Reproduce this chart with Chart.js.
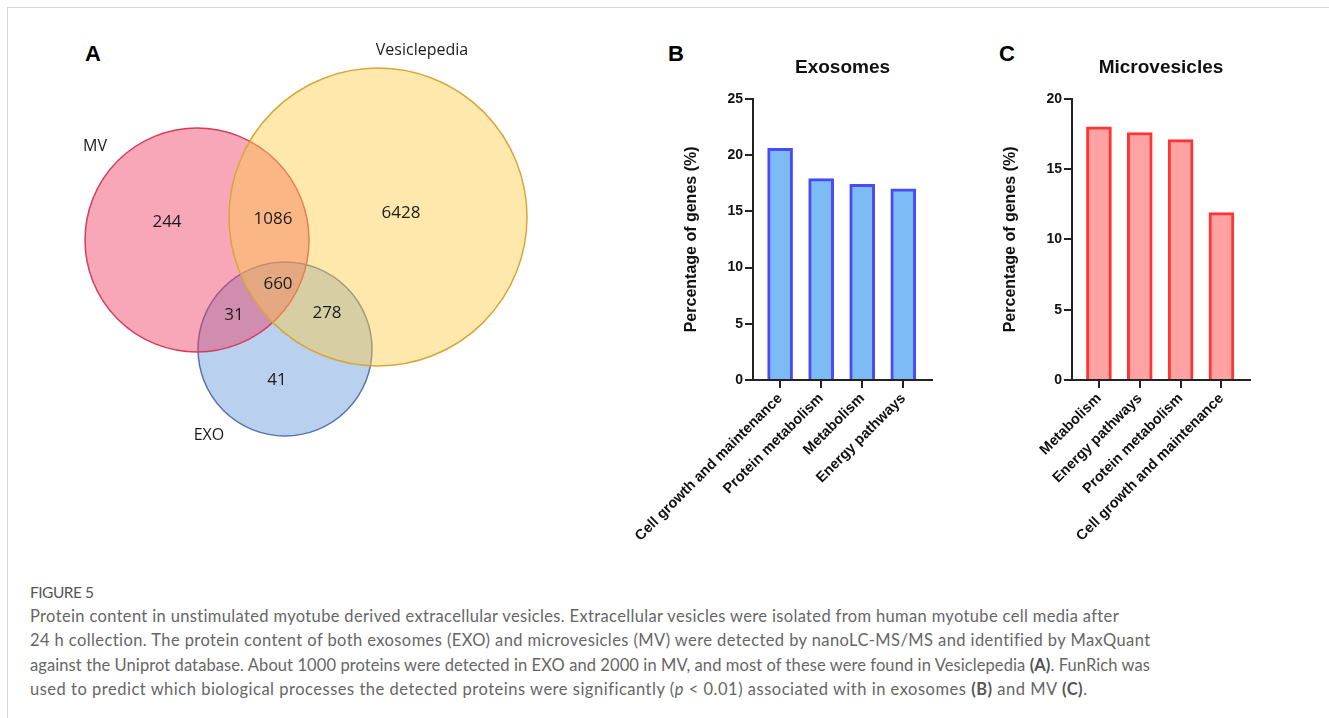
<!DOCTYPE html>
<html>
<head>
<meta charset="utf-8">
<title>Figure 5</title>
<script src="https://cdn.jsdelivr.net/npm/chart.js@4.4.1/dist/chart.umd.min.js"></script>
<style>
  html, body { margin: 0; padding: 0; background: #fff; }
  body { width: 1329px; height: 718px; position: relative; overflow: hidden; font-family: "Liberation Sans", Arial, sans-serif; }
  #frame { position: absolute; left: 7px; top: 7px; right: 0; bottom: 0; border-top: 1px solid #d6d6d6; border-left: 1px solid #d6d6d6; }
  .panel { position: absolute; font-weight: bold; font-size: 22px; line-height: 22px; color: #000; }
  canvas { position: absolute; }
  #caption { position: absolute; left: 30px; top: 580px; font-family: Lato, sans-serif; font-size: 16.5px; letter-spacing: 0.35px; line-height: 24.2px; color: #666; white-space: nowrap; }
  #caption .fig { font-size: 15.5px; letter-spacing: -0.5px; color: #555; }
  #caption b { color: #555; }
</style>
</head>
<body>
<div id="frame"></div>
<div class="panel" style="left:85px;top:43px">A</div>
<div class="panel" style="left:668px;top:43px">B</div>
<div class="panel" style="left:999px;top:43px">C</div>

<canvas id="venn" width="520" height="450" style="left:40px;top:20px"></canvas>
<canvas id="exo" width="330" height="520" style="left:620px;top:30px"></canvas>
<canvas id="mv" width="330" height="520" style="left:950px;top:30px"></canvas>

<div id="caption">
  <div class="fig">FIGURE 5</div>
  <div>Protein content in unstimulated myotube derived extracellular vesicles. Extracellular vesicles were isolated from human myotube cell media after</div>
  <div style="letter-spacing:0.41px">24 h collection. The protein content of both exosomes (EXO) and microvesicles (MV) were detected by nanoLC-MS/MS and identified by MaxQuant</div>
  <div style="letter-spacing:0.09px">against the Uniprot database. About 1000 proteins were detected in EXO and 2000 in MV, and most of these were found in Vesiclepedia <b>(A)</b>. FunRich was</div>
  <div style="letter-spacing:0.51px">used to predict which biological processes the detected proteins were significantly (<i>p</i> &lt; 0.01) associated with in exosomes <b>(B)</b> and MV <b>(C)</b>.</div>
</div>

<script>
// --- data ---
var exoCategories = ['Cell growth and maintenance', 'Protein metabolism', 'Metabolism', 'Energy pathways'];
var exoValues = [20.6, 17.9, 17.4, 17.0];
var exoTicks = [0, 5, 10, 15, 20, 25];

var mvCategories = ['Metabolism', 'Energy pathways', 'Protein metabolism', 'Cell growth and maintenance'];
var mvValues = [18.0, 17.6, 17.1, 11.9];
var mvTicks = [0, 5, 10, 15, 20];

var vennSets = ['Vesiclepedia', 'MV', 'EXO'];
// Vesiclepedia only, MV+Ves, MV only, all three, MV+EXO, EXO+Ves, EXO only
var vennCounts = [6428, 1086, 244, 660, 31, 278, 41];

// --- venn layout (panel units = canvas px, 520 x 450) ---
var vennW = 520, vennH = 450;
var vennCircles = [
    { x: 338, y: 197, r: 149 },
    { x: 157, y: 220, r: 112 },
    { x: 245, y: 329, r: 87 }
];
var vennCountSpots = [[361, 193], [233, 199], [127, 202], [238, 264], [194, 295], [287, 293], [237, 360]];
var vennNameSpots = [[382, 30], [55, 126], [169, 415]];
var vennFill = ['rgba(252, 205, 70, 0.45)', 'rgba(240, 60, 100, 0.45)', 'rgba(100, 150, 220, 0.45)'];
var vennEdge = ['#d6a63a', '#d63c5c', '#5573ad'];
var vennLine = 1.5;

// bubble charts inset the chart area by the largest bubble; undo that so units stay px
var vennPad = Math.max.apply(null, vennCircles.map(function(c) { return c.r; })) + vennLine;

var vennText = {
    id: 'vennText',
    afterDatasetsDraw: function(chart) {
        var ctx = chart.ctx;
        var sx = chart.scales.x, sy = chart.scales.y;
        ctx.save();
        ctx.textAlign = 'center';
        ctx.textBaseline = 'middle';
        ctx.fillStyle = '#1b1b1b';
        ctx.font = '17px "Open Sans"';
        vennCounts.forEach(function(v, i) {
            ctx.fillText(String(v), sx.getPixelForValue(vennCountSpots[i][0]), sy.getPixelForValue(vennCountSpots[i][1]));
        });
        ctx.font = '16px "Open Sans"';
        vennSets.forEach(function(name, i) {
            ctx.fillText(name, sx.getPixelForValue(vennNameSpots[i][0]), sy.getPixelForValue(vennNameSpots[i][1]));
        });
        ctx.restore();
    }
};

new Chart(document.getElementById('venn'), {
    type: 'bubble',
    data: {
        datasets: vennSets.map(function(name, i) {
            return {
                label: name,
                data: [{ x: vennCircles[i].x, y: vennCircles[i].y, r: vennCircles[i].r }],
                backgroundColor: vennFill[i],
                borderColor: vennEdge[i],
                borderWidth: vennLine,
                hoverRadius: 0,
                clip: false
            };
        })
    },
    options: {
        responsive: false,
        animation: false,
        events: [],
        layout: { padding: 0 },
        plugins: { legend: { display: false }, tooltip: { enabled: false } },
        scales: {
            x: { type: 'linear', min: vennPad, max: vennW - vennPad, display: false },
            y: { type: 'linear', min: vennPad, max: vennH - vennPad, reverse: true, display: false }
        }
    },
    plugins: [vennText]
});

// bars sit on a numeric x axis so the first/last bar can keep the Prism-like side gaps
function barChart(id, cats, vals, ticks, title, fill, edge, padLeft, padRight, yWidth) {
    var axisFont = { family: '"Liberation Sans", Arial', size: 14.5, weight: 'bold' };
    return new Chart(document.getElementById(id), {
        type: 'bar',
        data: {
            datasets: [{
                data: vals.map(function(v, i) { return { x: i, y: v }; }),
                backgroundColor: fill,
                borderColor: edge,
                borderWidth: 3,
                borderSkipped: 'bottom',
                barThickness: 25
            }]
        },
        options: {
            responsive: false,
            animation: false,
            events: [],
            layout: { padding: { left: padLeft, right: padRight, top: 0, bottom: 0 } },
            plugins: {
                legend: { display: false },
                tooltip: { enabled: false },
                title: {
                    display: true,
                    text: title,
                    fullSize: false,
                    color: '#111',
                    font: { family: '"Liberation Sans", Arial', size: 19, weight: 'bold' },
                    padding: { top: 26, bottom: 20 }
                }
            },
            scales: {
                x: {
                    type: 'linear',
                    offset: false,
                    min: -0.66,
                    max: cats.length - 1 + 0.7,
                    afterBuildTicks: function(s) { s.ticks = cats.map(function(c, i) { return { value: i }; }); },
                    grid: { display: true, offset: false, drawOnChartArea: false, tickLength: 8, color: '#222', lineWidth: 2 },
                    border: { color: '#222', width: 2 },
                    ticks: {
                        color: '#111', font: axisFont, maxRotation: 45, minRotation: 45, padding: 2,
                        callback: function(v) { return cats[v]; }
                    },
                    afterFit: function(s) { s.height = 170; s.paddingLeft = 0; s.paddingRight = 0; }
                },
                y: {
                    min: 0,
                    max: ticks[ticks.length - 1],
                    afterBuildTicks: function(s) { s.ticks = ticks.map(function(v) { return { value: v }; }); },
                    grid: { display: true, drawOnChartArea: false, tickLength: 8, color: '#222', lineWidth: 2 },
                    border: { color: '#222', width: 2 },
                    ticks: { color: '#111', font: { family: '"Liberation Sans", Arial', size: 14, weight: 'bold' }, padding: 2 },
                    title: {
                        display: true,
                        text: 'Percentage of genes (%)',
                        color: '#111',
                        font: { family: '"Liberation Sans", Arial', size: 16, weight: 'bold' },
                        padding: { top: 4, bottom: 4 }
                    },
                    afterFit: function(s) { s.width = yWidth; }
                }
            }
        }
    });
}

barChart('exo', exoCategories, exoValues, exoTicks, 'Exosomes', '#7dbbf6', '#4b4bf5', 58, 18, 75);
barChart('mv', mvCategories, mvValues, mvTicks, 'Microvesicles', '#ffa2a2', '#ff3535', 47, 30, 75);
</script>
</body>
</html>
